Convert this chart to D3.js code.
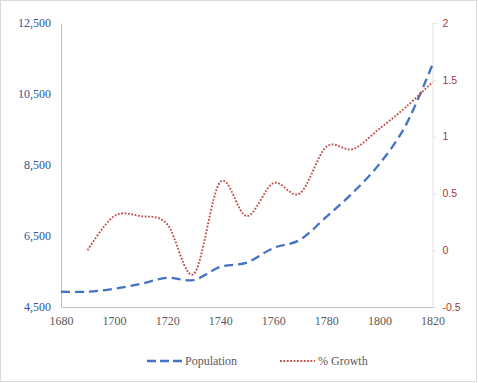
<!DOCTYPE html>
<html><head><meta charset="utf-8">
<script src="https://cdn.jsdelivr.net/npm/d3@7"></script>
<style>body{margin:0;background:#fff;} svg{display:block;}</style>
</head><body>
<script>
const years = [1680,1690,1700,1710,1720,1730,1740,1750,1760,1770,1780,1790,1800,1810,1820];
const population = [4930,4930,5010,5150,5320,5260,5630,5750,6160,6390,7040,7720,8530,9630,11330];
const growthYears = [1690,1700,1710,1720,1730,1740,1750,1760,1770,1780,1790,1800,1810,1820];
const growth = [0,0.30,0.30,0.23,-0.21,0.60,0.30,0.59,0.50,0.91,0.89,1.07,1.26,1.48];
const xTicks = [1680,1700,1720,1740,1760,1780,1800,1820];
const leftTicks = [4500,6500,8500,10500,12500];
const rightTicks = [-0.5,0,0.5,1,1.5,2];
const seriesNames = ["Population","% Growth"];

const SERIF='"Liberation Serif"', SANS='"Liberation Sans"';
const W=478,H=383;
const svg=d3.select("body").append("svg").attr("width",W).attr("height",H);
svg.append("rect").attr("x",0.5).attr("y",0.5).attr("width",W-2).attr("height",H-2)
  .attr("fill","#fff").attr("stroke","#d9d9d9");

const x=d3.scaleLinear().domain([1680,1820]).range([61,432.5]);
const yL=d3.scaleLinear().domain([4500,12500]).range([307,23]);
const yR=d3.scaleLinear().domain([-0.5,2]).range([307,23]);

// left axis
const la=svg.append("g").attr("transform","translate(61,0)")
  .call(d3.axisLeft(yL).tickValues(leftTicks).tickSize(0).tickPadding(10).tickFormat(d3.format(",")));
la.select(".domain").attr("stroke","#bfbfbf");
la.selectAll("text").style("font-family",SERIF).style("font-size","12px").attr("fill","#2F5597");

// right axis
const ra=svg.append("g").attr("transform","translate(432.5,0)")
  .call(d3.axisRight(yR).tickValues(rightTicks).tickSize(4).tickPadding(6).tickFormat(d=>String(d)));
ra.select(".domain").attr("stroke","#e3e3e3");
ra.selectAll(".tick line").attr("stroke","#e3e3e3");
ra.selectAll("text").style("font-family",SANS).style("font-size","10.5px").attr("fill","#9E3A38");

// bottom axis
const ba=svg.append("g").attr("transform","translate(0,307)")
  .call(d3.axisBottom(x).tickValues(xTicks).tickSize(0).tickPadding(9).tickFormat(d3.format("d")));
ba.select(".domain").attr("stroke","#bfbfbf");
ba.selectAll("text").style("font-family",SERIF).style("font-size","12px").attr("fill","#595959");

const curve=d3.curveCatmullRom.alpha(0);
const popLine=d3.line().x((d,i)=>x(years[i])).y(d=>yL(d)).curve(curve);
const grLine=d3.line().x((d,i)=>x(growthYears[i])).y(d=>yR(d)).curve(curve);

svg.append("path").attr("d",popLine(population)).attr("fill","none")
  .attr("stroke","#4472C4").attr("stroke-width",2.3).attr("stroke-dasharray","9,5");
svg.append("path").attr("d",grLine(growth)).attr("fill","none")
  .attr("stroke","#C0504D").attr("stroke-width",1.9).attr("stroke-dasharray","1.8,1.6");

// legend
const lg=svg.append("g");
lg.append("line").attr("x1",147).attr("x2",182).attr("y1",361).attr("y2",361)
  .attr("stroke","#4472C4").attr("stroke-width",2.3).attr("stroke-dasharray","9,4");
lg.append("text").attr("x",185).attr("y",365).text(seriesNames[0])
  .style("font-family",SERIF).style("font-size","12px").attr("fill","#595959");
lg.append("line").attr("x1",280).attr("x2",315).attr("y1",361).attr("y2",361)
  .attr("stroke","#C0504D").attr("stroke-width",1.9).attr("stroke-dasharray","1.8,1.6");
lg.append("text").attr("x",318).attr("y",365).text(seriesNames[1])
  .style("font-family",SERIF).style("font-size","12px").attr("fill","#595959");
</script>
</body></html>
